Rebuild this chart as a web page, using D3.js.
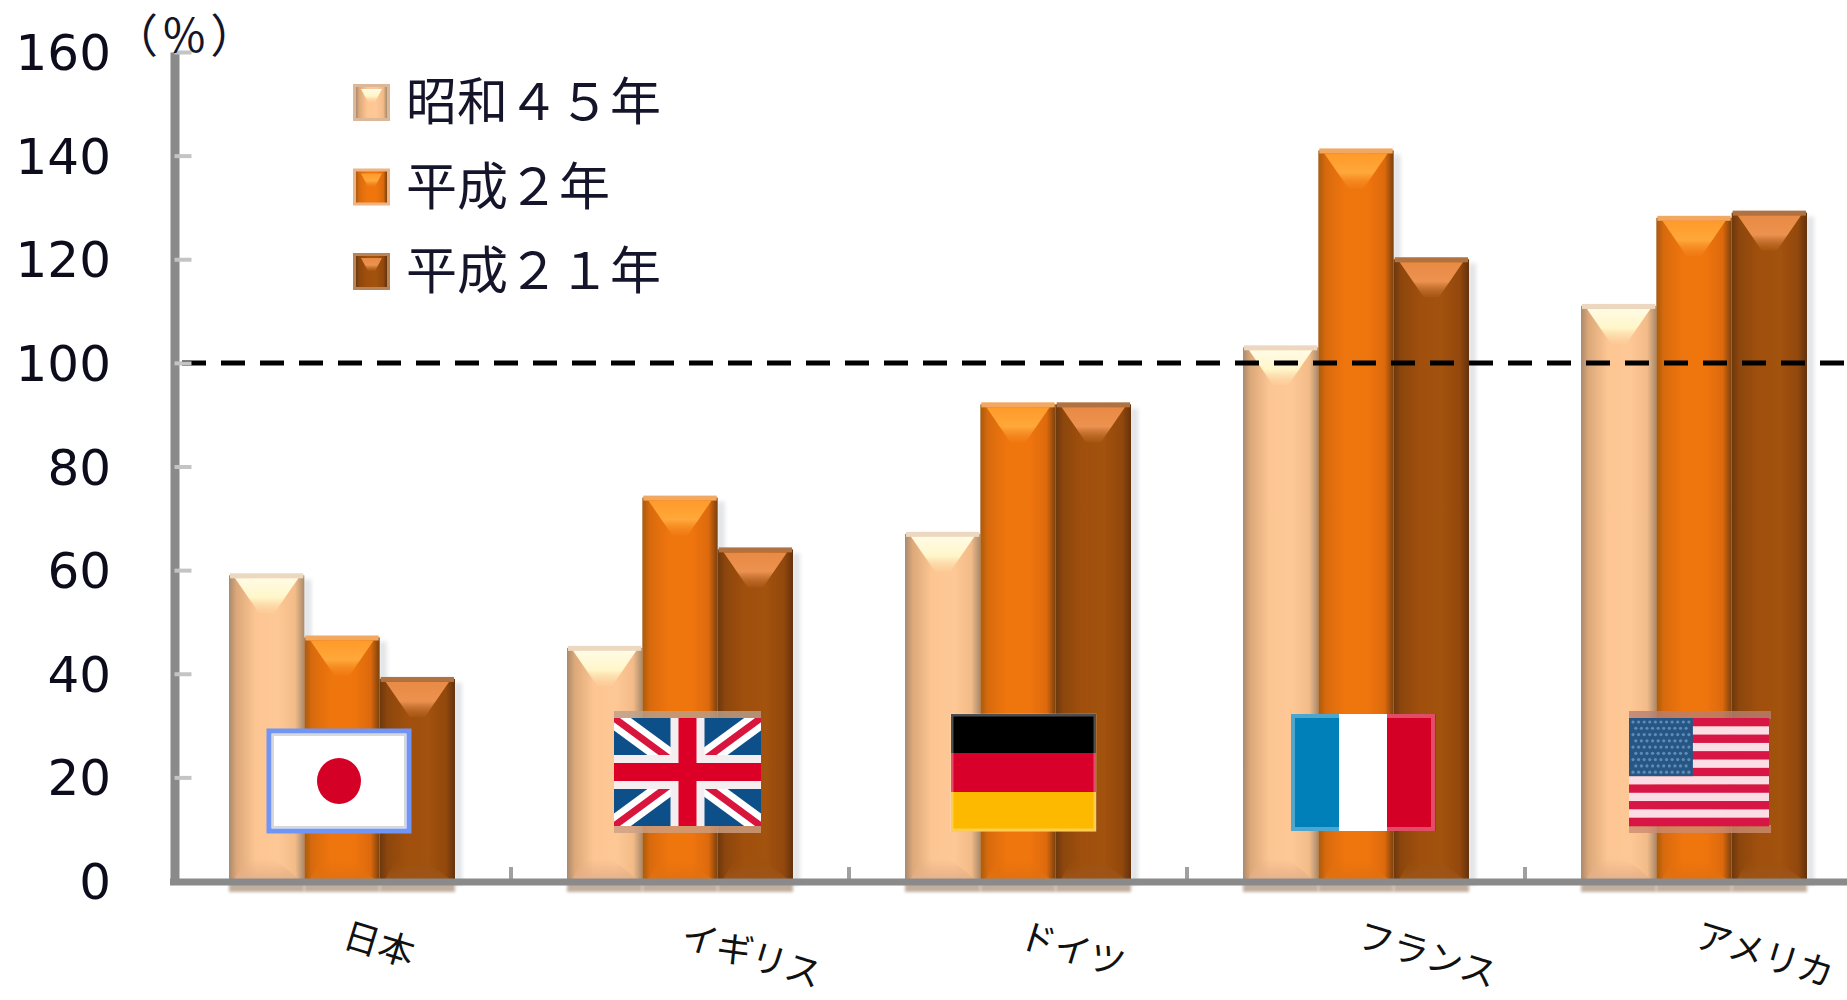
<!DOCTYPE html>
<html>
<head>
<meta charset="utf-8">
<script src="https://cdn.jsdelivr.net/npm/d3@7/dist/d3.min.js"></script>
<style>
html,body{margin:0;padding:0;background:#fff;overflow:hidden}
svg{display:block}
</style>
</head>
<body>
<svg id="chart" width="1847" height="1000"></svg>
<script>
// 対象国と調査年ごとの比率（%）
const countries = ["日本", "イギリス", "ドイツ", "フランス", "アメリカ"];
const seriesNames = ["昭和４５年", "平成２年", "平成２１年"];
const showa45 = [59, 45, 67, 103, 111];
const heisei2 = [47, 74, 92, 141, 128];
const heisei21 = [39, 64, 92, 120, 129];
const yTicks = [0, 20, 40, 60, 80, 100, 120, 140, 160];
const referenceLevel = 100;

const svg = d3.select("#chart");
const defs = svg.append("defs");

const y = d3.scaleLinear().domain([0, 160]).range([881, 52]);
const x0 = d3.scaleBand().domain(countries).range([173, 1863]).paddingInner(0).paddingOuter(0);
const x1 = d3.scaleBand().domain(d3.range(3)).range([56, 282]);

// 系列ごとの配色：側面のグラデーション、上面のハイライト、底面、上端
const palette = [
  { side: ["#a98a6e", "#dca878", "#fcc592", "#fec896", "#f2bb88", "#a88a6c"],
    hi: ["#fffbe6", "#fff6c8", "#fbd9a8"], base: "#e6b088", rim: "#ecd8c0", thumbEdge: "#dcb898" },
  { side: ["#a85a14", "#d86a0c", "#ef7510", "#f0750f", "#dc6a0a", "#7a4010"],
    hi: ["#ff9a2a", "#ffa83a", "#f58a20"], base: "#e2700f", rim: "#f2a860", thumbEdge: "#eeb484" },
  { side: ["#6c380c", "#8c4608", "#a0500c", "#a2520e", "#924808", "#643208"],
    hi: ["#e88a44", "#ec9250", "#c06c2c"], base: "#9c5418", rim: "#b07240", thumbEdge: "#b88458" }
];

palette.forEach((p, i) => {
  const g = defs.append("linearGradient").attr("id", `side${i}`);
  const offs = [0, 0.1, 0.35, 0.65, 0.88, 1];
  p.side.forEach((c, k) => g.append("stop").attr("offset", offs[k]).attr("stop-color", c));
  const h = defs.append("linearGradient").attr("id", `hi${i}`).attr("x1", 0).attr("x2", 0).attr("y1", 0).attr("y2", 1);
  h.append("stop").attr("offset", 0).attr("stop-color", p.hi[0]);
  h.append("stop").attr("offset", 0.55).attr("stop-color", p.hi[1]);
  h.append("stop").attr("offset", 1).attr("stop-color", p.hi[2]).attr("stop-opacity", 0.2);
  const b = defs.append("linearGradient").attr("id", `base${i}`).attr("x1", 0).attr("x2", 0).attr("y1", 0).attr("y2", 1);
  b.append("stop").attr("offset", 0).attr("stop-color", p.base).attr("stop-opacity", 0);
  b.append("stop").attr("offset", 1).attr("stop-color", p.base).attr("stop-opacity", 1);
});

function blurFilter(id, amount) {
  const f = defs.append("filter").attr("id", id).attr("x", "-30%").attr("y", "-30%").attr("width", "160%").attr("height", "160%");
  f.append("feGaussianBlur").attr("stdDeviation", amount);
}
blurFilter("soft", 0.7);
blurFilter("shade", 2.2);
blurFilter("floor", 1.6);

const rows = countries.flatMap((c, ci) =>
  [showa45, heisei2, heisei21].map((vals, s) => ({ country: c, s, value: vals[ci] })));

const bars = svg.append("g").attr("class", "bars");

// 立体風の棒：影 → 本体 → 上面ハイライト → 底面
const barGroups = bars.selectAll("g.bar").data(rows).join("g").attr("class", "bar")
  .attr("transform", d => `translate(${x0(d.country) + x1(d.s)},0)`);

const bw = x1.bandwidth();

barGroups.append("rect").attr("x", bw - 1).attr("y", d => y(d.value) + 4).attr("width", 8)
  .attr("height", d => y(0) - y(d.value)).attr("fill", "#b8bcc4").attr("opacity", 0.4).attr("filter", "url(#shade)");
barGroups.append("rect").attr("x", 0).attr("y", y(0) + 2).attr("width", bw).attr("height", 9)
  .attr("fill", "#b6a08e").attr("opacity", 0.85).attr("filter", "url(#floor)");

const faces = barGroups.append("g").attr("filter", "url(#soft)");
faces.append("rect").attr("x", 0).attr("y", d => y(d.value)).attr("width", bw)
  .attr("height", d => y(0) - y(d.value)).attr("fill", d => `url(#side${d.s})`);
faces.append("rect").attr("x", 1).attr("y", d => y(d.value) - 2).attr("width", bw - 2).attr("height", 5)
  .attr("fill", d => palette[d.s].rim);
faces.append("path")
  .attr("d", d => {
    const t = y(d.value) + 3;
    return d3.line()([[bw * 0.08, t], [bw * 0.92, t], [bw * 0.6, t + 35], [bw * 0.4, t + 35]]) + "Z";
  })
  .attr("fill", d => `url(#hi${d.s})`);
faces.append("path")
  .attr("d", d3.line()([[bw * 0.22, y(0) - 22], [bw * 0.6, y(0) - 22], [bw * 0.96, y(0)], [bw * 0.06, y(0)]]) + "Z")
  .attr("fill", d => `url(#base${d.s})`);

// 基準線（100%）
svg.append("line").attr("x1", 182).attr("x2", 1847)
  .attr("y1", y(referenceLevel)).attr("y2", y(referenceLevel))
  .attr("stroke", "#000").attr("stroke-width", 5).attr("stroke-dasharray", "24 15");

// 縦軸・横軸
const axisColor = "#8a8a8a";
const yAxis = d3.axisRight(y).tickValues(yTicks).tickSize(17).tickSizeOuter(0).tickFormat("");
const yAxisG = svg.append("g").attr("transform", "translate(174.5,0)").call(yAxis);
yAxisG.select(".domain").attr("stroke", axisColor).attr("stroke-width", 9);
yAxisG.selectAll(".tick line").attr("stroke", "#c4c4c4").attr("stroke-width", 4);

const bandEdges = d3.range(countries.length + 1).map(i => 173 + i * x0.bandwidth());
const xEdges = svg.append("g");
xEdges.selectAll("line").data(bandEdges.slice(1, -1)).join("line")
  .attr("x1", d => d).attr("x2", d => d).attr("y1", y(0) - 14).attr("y2", y(0))
  .attr("stroke", "#a0a0a0").attr("stroke-width", 4);
svg.append("line").attr("x1", 170).attr("x2", 1847).attr("y1", y(0) + 1).attr("y2", y(0) + 1)
  .attr("stroke", axisColor).attr("stroke-width", 7);

svg.append("g").selectAll("text").data(yTicks).join("text")
  .attr("x", 111).attr("y", d => y(d)).attr("dy", "0.36em").attr("text-anchor", "end")
  .attr("font-family", "'DejaVu Sans'").attr("font-size", 50).attr("fill", "#0c0c1c")
  .text(d => d);

svg.append("text").attr("x", 112).attr("y", 52)
  .attr("font-family", "'Noto Sans CJK JP'").attr("font-size", 46).attr("letter-spacing", 5).attr("fill", "#14142a").text("（%）");

// 凡例
const legendY = d3.scalePoint().domain(seriesNames).range([102, 271]);
const legend = svg.append("g").selectAll("g").data(seriesNames).join("g")
  .attr("transform", d => `translate(353,${legendY(d)})`);
legend.each(function (name, i) {
  const g = d3.select(this);
  const sw = 37, t = -18;
  const inner = g.append("g").attr("filter", "url(#soft)");
  inner.append("rect").attr("x", 0).attr("y", t).attr("width", sw).attr("height", sw).attr("fill", palette[i].thumbEdge);
  inner.append("rect").attr("x", 3).attr("y", t + 3).attr("width", sw - 6).attr("height", sw - 6).attr("fill", `url(#side${i})`);
  inner.append("path").attr("d", d3.line()([[8, t + 5], [29, t + 5], [22, t + 18], [15, t + 18]]) + "Z").attr("fill", `url(#hi${i})`);
});
legend.append("text").attr("x", 53).attr("y", 18)
  .attr("font-family", "'Noto Sans CJK JP'").attr("font-size", 51).attr("fill", "#14142a")
  .text(d => d);

// 国名（斜め書き）
svg.append("g").selectAll("text").data(countries).join("text")
  .attr("transform", d => `translate(${x0(d) + x0.bandwidth() / 2 - 1},946) rotate(17)`)
  .attr("font-family", "'Noto Sans CJK JP'").attr("font-size", 36).attr("fill", "#111")
  .text(d => d);

// 国旗：各棒群の手前に重ねる
const flagBoxes = [
  { x: 96, y: 731, w: 140, h: 100 },
  { x: 103, y: 711, w: 147, h: 122 },
  { x: 102, y: 714, w: 145, h: 117 },
  { x: 104, y: 714, w: 144, h: 117 },
  { x: 104, y: 711, w: 142, h: 122 }
];
const flagLayer = svg.append("g").attr("filter", "url(#soft)");
function flagAt(i) {
  const b = flagBoxes[i];
  return flagLayer.append("g").attr("transform", `translate(${x0(countries[i]) + b.x},${b.y})`);
}

// 日本
(() => {
  const { w, h } = flagBoxes[0];
  const g = flagAt(0);
  g.append("rect").attr("width", w).attr("height", h).attr("fill", "#fff").attr("stroke", "#6f95f5").attr("stroke-width", 5);
  g.append("rect").attr("x", 4).attr("y", 4).attr("width", w - 8).attr("height", h - 8).attr("fill", "none").attr("stroke", "#d8d8d8").attr("stroke-width", 2);
  g.append("ellipse").attr("cx", w / 2).attr("cy", h / 2).attr("rx", 22).attr("ry", 23).attr("fill", "#d50025");
})();

// イギリス
(() => {
  const { w, h } = flagBoxes[1];
  const g = flagAt(1);
  g.append("rect").attr("y", 0).attr("width", w).attr("height", 8).attr("fill", "#b9a08c").attr("opacity", 0.8);
  g.append("rect").attr("y", h - 8).attr("width", w).attr("height", 8).attr("fill", "#cda084").attr("opacity", 0.8);
  const inner = g.append("g").attr("transform", "translate(0,7)");
  const iw = w, ih = h - 14;
  defs.append("clipPath").attr("id", "ukClip").append("rect").attr("width", iw).attr("height", ih);
  inner.attr("clip-path", "url(#ukClip)");
  inner.append("rect").attr("width", iw).attr("height", ih).attr("fill", "#0c5088");
  [[0, 0, iw, ih], [iw, 0, 0, ih]].forEach(([a, b1, c, d]) => {
    inner.append("line").attr("x1", a).attr("y1", b1).attr("x2", c).attr("y2", d).attr("stroke", "#fff").attr("stroke-width", 20);
    inner.append("line").attr("x1", a).attr("y1", b1).attr("x2", c).attr("y2", d).attr("stroke", "#d8143c").attr("stroke-width", 7);
  });
  inner.append("rect").attr("x", iw / 2 - 17).attr("width", 34).attr("height", ih).attr("fill", "#f4eef0");
  inner.append("rect").attr("y", ih / 2 - 17).attr("width", iw).attr("height", 34).attr("fill", "#f4eef0");
  inner.append("rect").attr("x", iw / 2 - 9).attr("width", 18).attr("height", ih).attr("fill", "#dc0026");
  inner.append("rect").attr("y", ih / 2 - 9).attr("width", iw).attr("height", 18).attr("fill", "#dc0026");
})();

// ドイツ
(() => {
  const { w, h } = flagBoxes[2];
  const g = flagAt(2);
  ["#000000", "#d8002a", "#fdb800"].forEach((c, k) =>
    g.append("rect").attr("y", k * h / 3).attr("width", w).attr("height", h / 3 + 0.5).attr("fill", c));
  g.append("rect").attr("x", 1).attr("y", 1).attr("width", w - 2).attr("height", h - 2).attr("fill", "none").attr("stroke", "#fff").attr("stroke-opacity", 0.3).attr("stroke-width", 3);
})();

// フランス
(() => {
  const { w, h } = flagBoxes[3];
  const g = flagAt(3);
  ["#0080b8", "#ffffff", "#d50025"].forEach((c, k) =>
    g.append("rect").attr("x", k * w / 3).attr("width", w / 3 + 0.5).attr("height", h).attr("fill", c));
  g.append("rect").attr("x", 2).attr("y", 2).attr("width", w - 4).attr("height", h - 4).attr("fill", "none").attr("stroke", "#fff").attr("stroke-opacity", 0.3).attr("stroke-width", 4);
})();

// アメリカ
(() => {
  const { w, h } = flagBoxes[4];
  const g = flagAt(4);
  g.append("rect").attr("y", 0).attr("width", w).attr("height", 8).attr("fill", "#b88070").attr("opacity", 0.8);
  g.append("rect").attr("y", h - 8).attr("width", w).attr("height", 8).attr("fill", "#cc8c70").attr("opacity", 0.8);
  const top = 7, stripeH = (h - 14) / 13;
  d3.range(13).forEach(k => {
    g.append("rect").attr("y", top + k * stripeH).attr("width", w - 2).attr("height", stripeH + 0.3)
      .attr("fill", k % 2 ? "#fbdde6" : "#d81444");
  });
  const cw = w * 0.45, ch = stripeH * 7;
  g.append("rect").attr("y", top).attr("width", cw).attr("height", ch).attr("fill", "#275785");
  d3.range(9).forEach(r => d3.range(r % 2 ? 10 : 11).forEach(c => {
    g.append("circle").attr("cx", 4 + c * (cw - 8) / 10 + (r % 2 ? (cw - 8) / 20 : 0))
      .attr("cy", top + 4 + r * (ch - 8) / 8).attr("r", 1.6).attr("fill", "#5f8cb4");
  }));
})();
</script>
</body>
</html>
